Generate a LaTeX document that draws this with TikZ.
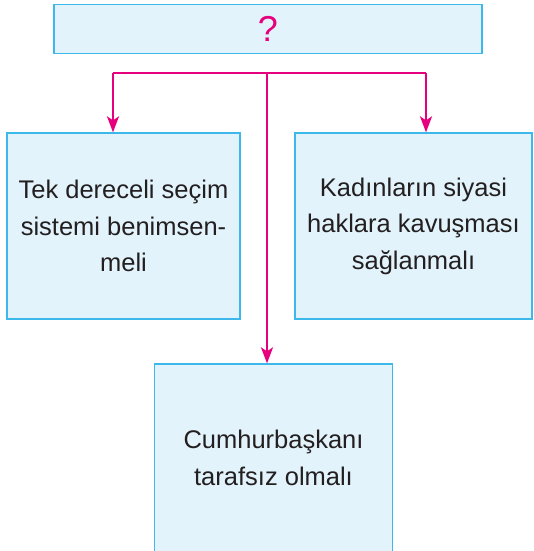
\documentclass[tikz,border=0pt]{standalone}
\usepackage{fontspec}
\setmainfont{Liberation Sans}
\usetikzlibrary{arrows.meta}
\definecolor{boxfill}{HTML}{E2F3FB}
\definecolor{boxline}{HTML}{3DB8EA}
\definecolor{pink}{HTML}{E6007E}
\definecolor{ink}{HTML}{231F20}
\begin{document}
\begin{tikzpicture}[x=1pt,y=-1pt,
    box/.style={draw=boxline, line width=1.3pt, fill=boxfill, align=center,
      text=ink, font=\fontsize{25.5}{36.5}\selectfont, inner sep=0pt},
    link/.style={draw=pink, line width=2.2pt},
    arr/.style={link, -{Stealth[length=16pt,width=12pt,inset=4pt]}}]
    \useasboundingbox (0,0) rectangle (534,551);
    \node [box, minimum width=428pt, minimum height=49pt, text=pink,
      font=\fontsize{36}{40}\selectfont] (quest) at (268,29) {?};
    \node [box, minimum width=233pt, minimum height=186pt] (left) at (123.5,226)
      {Tek dereceli seçim\\sistemi benimsen-\\meli};
    \node [box, minimum width=237pt, minimum height=186pt] (right) at (413.5,226)
      {Kadınların siyasi\\haklara kavuşması\\sağlanmalı};
    \node [box, minimum width=238pt, minimum height=188pt] (bottom) at (273.5,458)
      {Cumhurbaşkanı\\tarafsız olmalı};
    \coordinate (hub) at (267,73);
    \coordinate (lk) at (113,73);
    \coordinate (rk) at (426,73);
    \draw [link] (lk) -- (rk);
    \draw [arr] (lk) -- (lk |- left.north);
    \draw [arr] (rk) -- (rk |- right.north);
    \draw [arr] (hub) -- (hub |- bottom.north);
  \end{tikzpicture}
\end{document}
